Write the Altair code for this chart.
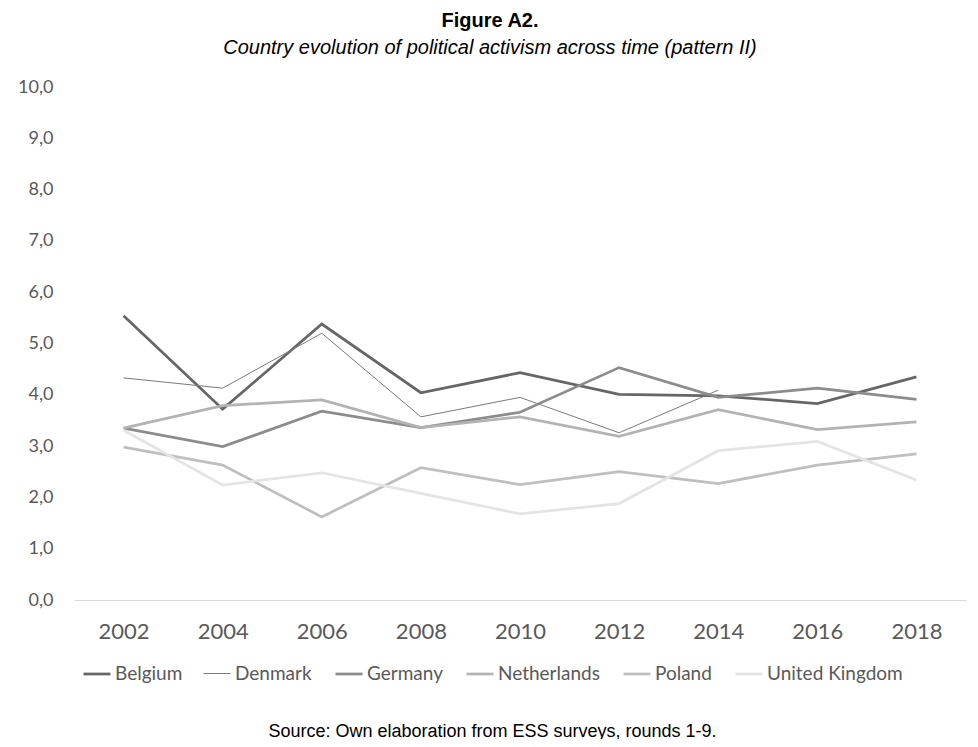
import altair as alt
import pandas as pd

years = ["2002", "2004", "2006", "2008", "2010", "2012", "2014", "2016", "2018"]
countries = ["Belgium", "Denmark", "Germany", "Netherlands", "Poland", "United Kingdom"]
belgium = [5.54, 3.72, 5.38, 4.04, 4.43, 4.01, 3.98, 3.83, 4.35]
denmark = [4.33, 4.13, 5.20, 3.57, 3.95, 3.26, 4.09]
germany = [3.35, 2.99, 3.68, 3.36, 3.66, 4.53, 3.95, 4.13, 3.91]
netherlands = [3.35, 3.79, 3.90, 3.36, 3.57, 3.19, 3.71, 3.32, 3.47]
poland = [2.98, 2.63, 1.62, 2.58, 2.25, 2.50, 2.27, 2.63, 2.85]
uk = [3.31, 2.24, 2.48, 2.08, 1.68, 1.88, 2.91, 3.09, 2.34]

colors = ["#666666", "#7a7a7a", "#8c8c8c", "#b3b3b3", "#bfbfbf", "#e4e4e4"]
widths = [2.75, 1.0, 2.75, 2.75, 2.75, 2.75]

series = [belgium, denmark, germany, netherlands, poland, uk]
rows = []
for c, vals in zip(countries, series):
    for y, v in zip(years, vals):
        rows.append({"Year": y, "Country": c, "Value": v})
df = pd.DataFrame(rows)

legend_kw = dict(title=None, orient="none", direction="horizontal",
                 legendX=8, legendY=572, symbolType="stroke",
                 symbolSize=729, labelFont="Lato", labelFontSize=19,
                 labelColor="#595959", columnPadding=18, labelOffset=3,
                 columns=6)

chart = alt.Chart(df).mark_line().encode(
    x=alt.X("Year:O", sort=years,
            scale=alt.Scale(type="point", padding=0.5),
            axis=alt.Axis(title="Source: Own elaboration from ESS surveys, rounds 1-9.",
                          titleFont="Liberation Sans", titleFontSize=18, titleFontWeight="normal",
                          titleColor="#000000", titleX=418, titleY=136, titleAlign="center",
                          titleBaseline="alphabetic", titleAnchor="start",
                          labelAngle=0, labelFont="Lato", labelFontSize=22, labelColor="#595959",
                          labelPadding=21, ticks=False, tickSize=0,
                          domain=True, domainColor="#d9d9d9", domainWidth=1, grid=False)),
    y=alt.Y("Value:Q",
            scale=alt.Scale(domain=[0, 10], nice=False),
            axis=alt.Axis(title=None, values=[0, 1, 2, 3, 4, 5, 6, 7, 8, 9, 10],
                          labelExpr="replace(format(datum.value, '.1f'), '.', ',')",
                          labelFont="Lato", labelFontSize=18, labelColor="#595959",
                          labelPadding=21, ticks=False, tickSize=0, domain=False, grid=False)),
    color=alt.Color("Country:N", sort=countries,
                    scale=alt.Scale(domain=countries, range=colors),
                    legend=alt.Legend(**legend_kw)),
    strokeWidth=alt.StrokeWidth("Country:N", sort=countries,
                                scale=alt.Scale(type="ordinal", domain=countries, range=widths),
                                legend=alt.Legend(**legend_kw)),
    detail="Country:N",
).properties(
    width=892,
    height=513,
    autosize=alt.AutoSizeParams(type="none"),
    padding={"left": 66, "top": 79, "right": 4, "bottom": 139},
    title=alt.TitleParams(text="Figure A2.",
                          subtitle="Country evolution of political activism across time (pattern II)",
                          font="Liberation Sans", fontSize=20, fontWeight="bold", color="#000000",
                          subtitleFont="Liberation Sans", subtitleFontSize=20,
                          subtitleFontStyle="italic", subtitleColor="#000000",
                          subtitlePadding=7, anchor="middle", dx=-30, offset=20),
).configure_view(stroke=None)

chart.save("out.html", embed_options={"renderer": "svg", "actions": False})
